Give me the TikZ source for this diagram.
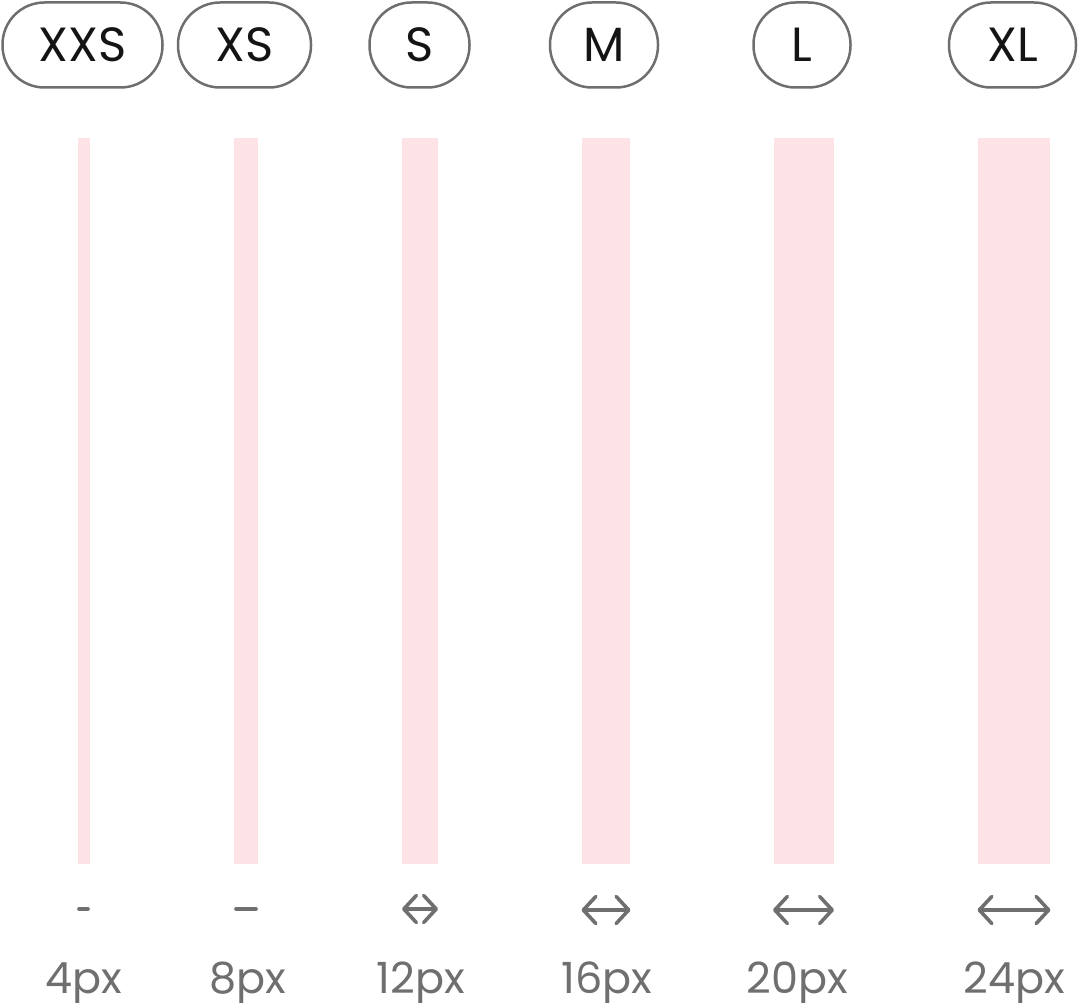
\documentclass[tikz,border=0pt]{standalone}
\usepackage{fontspec}
\setmainfont{Poppins}
\usetikzlibrary{arrows.meta}
\definecolor{pillgray}{HTML}{6E6E6E}
\definecolor{labgray}{HTML}{6F6F6F}
\definecolor{barpink}{HTML}{FDE3E5}
\definecolor{inkblack}{HTML}{141414}
\tikzset{
  pill/.style={draw=pillgray, line width=2.5pt, rounded corners=42pt,
    minimum height=85pt, inner sep=0pt, text=inkblack,
    font=\fontsize{48}{48}\selectfont},
  bar/.style={fill=barpink, draw=none},
  sizelabel/.style={anchor=base, text=labgray, inner sep=0pt,
    font=\fontsize{43}{43}\selectfont},
  dimline/.style={draw=labgray, line width=3.6pt, line cap=round, line join=round},
  dimarrow/.style={dimline, {Straight Barb[length=12.5pt,width=27pt,line width=3.6pt,round]}-{Straight Barb[length=12.5pt,width=27pt,line width=3.6pt,round]}}
}
\begin{document}
\begin{tikzpicture}[x=1pt,y=-1pt]
\useasboundingbox (0,0) rectangle (1080,1003);
% pills
\node[pill, minimum width=160pt] (pxxs) at (82.5,45) {XXS};
\node[pill, minimum width=133pt] (pxs) at (244.5,45) {XS};
\node[pill, minimum width=100pt] (ps) at (419.5,45) {S};
\node[pill, minimum width=108pt] (pm) at (604,45) {M};
\node[pill, minimum width=97pt] (pl) at (802,45) {L};
\node[pill, minimum width=127pt] (pxl) at (1012.5,45) {XL};
% bars
\fill[bar] (78,138) rectangle (90,864);
\fill[bar] (234,138) rectangle (258,864);
\fill[bar] (402,138) rectangle (438,864);
\fill[bar] (582,138) rectangle (630,864);
\fill[bar] (774,138) rectangle (834,864);
\fill[bar] (978,138) rectangle (1050,864);
% dimension marks
\coordinate (a1) at (79,909); \coordinate (b1) at (88,909);
\coordinate (a2) at (236,909); \coordinate (b2) at (256,909);
\coordinate (a3) at (402,909); \coordinate (b3) at (438,909);
\coordinate (a4) at (581.5,910); \coordinate (b4) at (630.5,910);
\coordinate (a5) at (773,910); \coordinate (b5) at (834,910);
\coordinate (a6) at (977.5,910); \coordinate (b6) at (1050.5,910);
\draw[dimline] (a1) -- (b1);
\draw[dimline] (a2) -- (b2);
\draw[dimarrow] (a3) -- (b3);
\draw[dimarrow] (a4) -- (b4);
\draw[dimarrow] (a5) -- (b5);
\draw[dimarrow] (a6) -- (b6);
% labels
\node[sizelabel] (l1) at (83.5,993) {4px};
\node[sizelabel] (l2) at (247.5,993) {8px};
\node[sizelabel] (l3) at (421,993) {12px};
\node[sizelabel] (l4) at (607,993) {16px};
\node[sizelabel] (l5) at (797.5,993) {20px};
\node[sizelabel] (l6) at (1014,993) {24px};
\end{tikzpicture}
\end{document}
